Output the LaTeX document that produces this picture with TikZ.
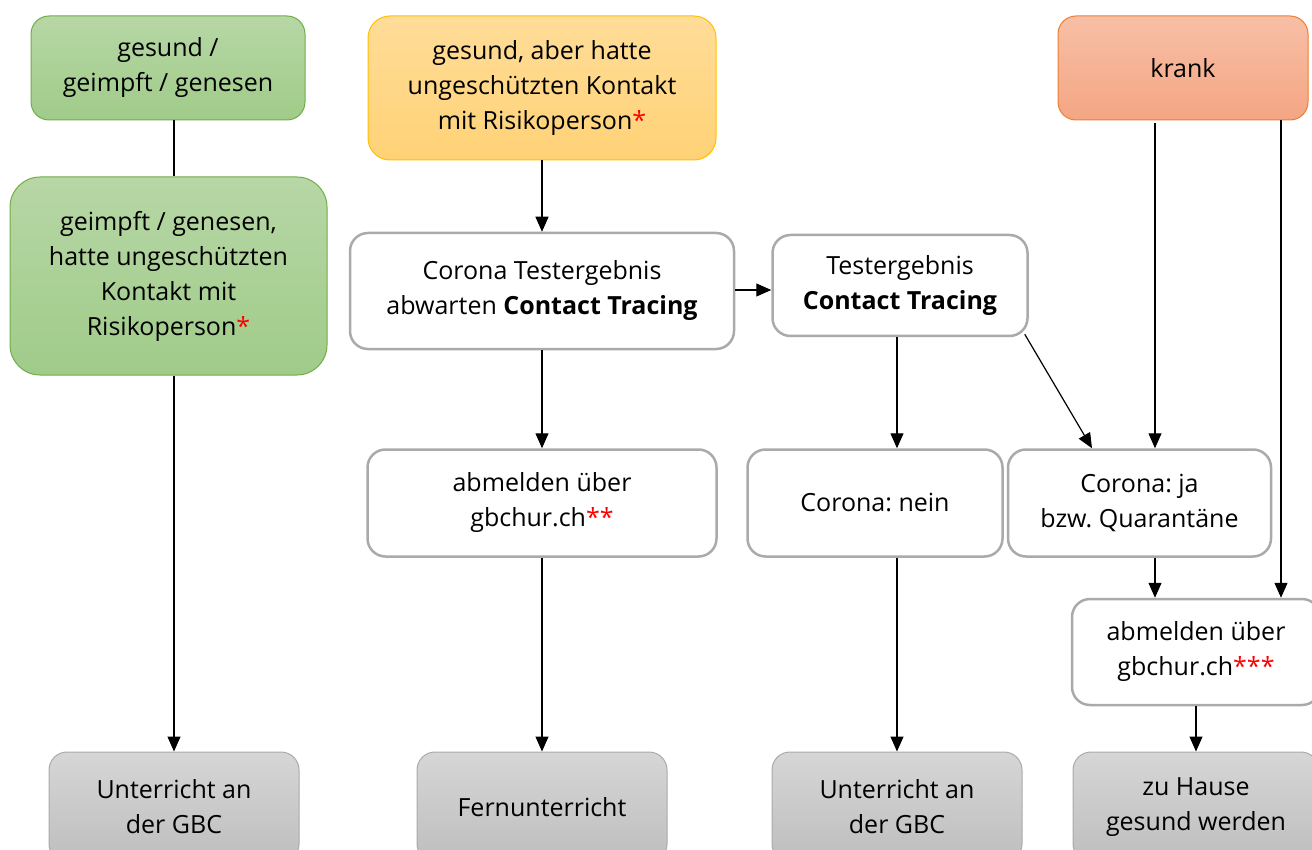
\documentclass[tikz,border=0pt]{standalone}
\usepackage{fontspec}
\setmainfont{Open Sans}
\frenchspacing
\usetikzlibrary{arrows.meta,%
		calc,%
		positioning,%
		shapes}

\definecolor{gruenoben}{RGB}{183,215,166}
\definecolor{gruenunten}{RGB}{160,203,137}
\definecolor{gruenrand}{RGB}{112,173,71}
\definecolor{gelboben}{RGB}{255,220,152}
\definecolor{gelbunten}{RGB}{255,210,118}
\definecolor{gelbrand}{RGB}{255,192,0}
\definecolor{orangeoben}{RGB}{247,191,166}
\definecolor{orangeunten}{RGB}{244,166,131}
\definecolor{orangerand}{RGB}{237,125,49}
\definecolor{grauoben}{RGB}{214,214,214}
\definecolor{grauunten}{RGB}{190,190,190}
\definecolor{graurand}{RGB}{170,170,170}

\tikzset{
  feld/.style={rounded corners=18pt, align=center, inner sep=0pt},
  gruen/.style={feld, draw=gruenrand, line width=1pt, top color=gruenoben, bottom color=gruenunten},
  gelb/.style={feld, draw=gelbrand, line width=1pt, top color=gelboben, bottom color=gelbunten},
  orange/.style={feld, draw=orangerand, line width=1pt, top color=orangeoben, bottom color=orangeunten},
  weiss/.style={feld, draw=graurand, line width=2.5pt, fill=white},
  grau/.style={feld, draw=graurand, line width=1pt, top color=grauoben, bottom color=grauunten},
  pfeil/.style={line width=1.2pt, -{Triangle[length=15pt,width=13pt]}},
  linie/.style={line width=1.2pt}
}
\newcommand{\stern}[1]{\textcolor{red}{#1}}

\begin{document}
\begin{tikzpicture}[x=1pt,y=-1pt,font=\fontsize{25}{35}\selectfont]
  \useasboundingbox (0,0) rectangle (1312,850);

  % obere Reihe
  \node[gruen, minimum width=274pt, minimum height=104pt] (gesund) at (168,68) {gesund /\\geimpft / genesen};
  \node[gelb, rounded corners=22pt, minimum width=348pt, minimum height=144pt] (kontakt) at (542,88) {gesund, aber hatte\\ungeschützten Kontakt\\mit Risikoperson\stern{*}};
  \node[orange, minimum width=250pt, minimum height=104pt] (krank) at (1183,68) {krank};

  % mittlere Reihen
  \node[gruen, rounded corners=30pt, minimum width=317pt, minimum height=198pt] (geimpft) at (168.5,276) {geimpft / genesen,\\hatte ungeschützten\\Kontakt mit\\Risikoperson\stern{*}};
  \node[weiss, minimum width=384pt, minimum height=116pt] (warten) at (542,291) {Corona Testergebnis\\abwarten \textbf{Contact Tracing}};
  \node[weiss, minimum width=255pt, minimum height=101pt] (tracing) at (900,285.5) {Testergebnis\\\textbf{Contact Tracing}};
  \node[weiss, minimum width=349pt, minimum height=107pt] (abmelden) at (542,503) {abmelden über\\gbchur.ch\stern{**}};
  \node[weiss, minimum width=255pt, minimum height=107pt] (nein) at (875,503) {Corona: nein};
  \node[weiss, minimum width=263pt, minimum height=107pt] (ja) at (1139.5,503) {Corona: ja\\bzw. Quarantäne};
  \node[weiss, minimum width=248pt, minimum height=106pt] (abmeldenb) at (1196,652) {abmelden über\\gbchur.ch\stern{***}};

  % untere Reihe
  \node[grau, minimum width=250pt, minimum height=110pt] (schulea) at (174,807) {Unterricht an\\der GBC};
  \node[grau, minimum width=250pt, minimum height=110pt] (fern) at (542,807) {Fernunterricht};
  \node[grau, minimum width=250pt, minimum height=110pt] (schuleb) at (897,807) {Unterricht an\\der GBC};
  \node[grau, minimum width=246pt, minimum height=110pt] (hause) at (1196,807) {zu Hause\\gesund werden};

  % Spalten der Verbindungen
  \coordinate (spja) at (1155,0);%Spalte krank -- ja -- abmelden
  \coordinate (spkr) at (1281,0);%Spalte krank -- abmelden
  \coordinate (spdiag) at (1092,0);%Ende der schraegen Linie

  \draw[linie] (gesund.south -| schulea.north) -- (geimpft.north -| schulea.north);
  \draw[pfeil] (geimpft.south -| schulea.north) -- (schulea.north);
  \draw[pfeil] (kontakt.south) -- (warten.north);
  \draw[pfeil] (warten.east |- 0,290) -- (tracing.west |- 0,290);
  \draw[pfeil] (warten.south) -- (abmelden.north);
  \draw[pfeil] (abmelden.south) -- (fern.north);
  \draw[pfeil] (tracing.south -| schuleb.north) -- (nein.north -| schuleb.north);
  \draw[pfeil] (nein.south -| schuleb.north) -- (schuleb.north);
  \draw[pfeil] ($(tracing.south east)+(-4,-3)$) -- (ja.north -| spdiag);
  \draw[pfeil] ($(krank.south -| spja)+(0,3)$) -- (ja.north -| spja);
  \draw[pfeil] (krank.south -| spkr) -- (abmeldenb.north -| spkr);
  \draw[pfeil] (ja.south -| spja) -- (abmeldenb.north -| spja);
  \draw[pfeil] (abmeldenb.south) -- (hause.north);
\end{tikzpicture}
\end{document}
